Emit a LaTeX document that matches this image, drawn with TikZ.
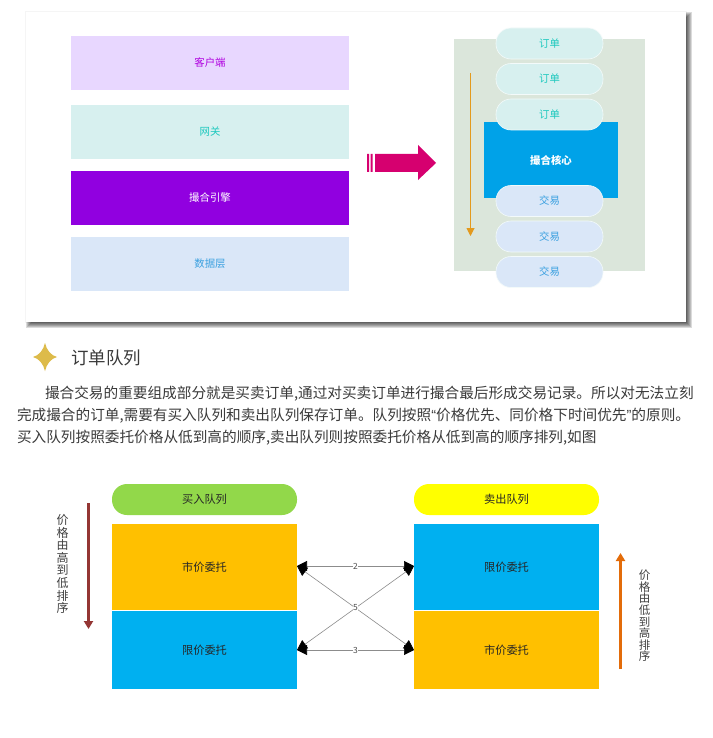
\documentclass[tikz,border=0pt]{standalone}
\usepackage{fontspec}
\setmainfont{Noto Sans CJK SC}
\newfontfamily\latinquote{Liberation Sans}
\usetikzlibrary{arrows.meta}
\definecolor{lilac}{HTML}{E8D7FF}
\definecolor{mint}{HTML}{D7F0EF}
\definecolor{paleblue}{HTML}{DAE7F8}
\definecolor{violet}{HTML}{9100E0}
\definecolor{panelgreen}{HTML}{DBE6DB}
\definecolor{corecyan}{HTML}{00A2E8}
\definecolor{amberbox}{HTML}{FFC000}
\definecolor{bluebox}{HTML}{00B0F0}
\definecolor{pillgreen}{HTML}{92D84A}
\definecolor{pureyellow}{HTML}{FFFF00}
\definecolor{darkred}{HTML}{943634}
\definecolor{orangeup}{HTML}{E36C0A}
\definecolor{orangeline}{HTML}{E39A1E}
\definecolor{magentaarrow}{HTML}{D6006F}
\definecolor{stargold}{HTML}{DDBB4A}
\definecolor{bodytext}{HTML}{3A3A3A}
\definecolor{clienttext}{HTML}{B000E0}
\definecolor{tealtext}{HTML}{1CC8BE}
\definecolor{bluetext}{HTML}{3AA0E0}
\newcommand{\tightlines}{\lineskiplimit=-6pt\relax}
\tikzset{
  x=1pt,y=-1pt,
  box/.style={rectangle,inner sep=0pt,outer sep=0pt,font=\fontsize{10.4}{12}\selectfont},
  pill/.style={box,rounded corners=15pt,minimum width=107pt,minimum height=31pt,draw=white!70!mint,line width=0.6pt,font=\fontsize{10.4}{12}\selectfont},
  bpill/.style={box,rounded corners=15pt,minimum width=185pt,minimum height=31pt,font=\fontsize{11.2}{12}\selectfont},
  lay/.style={box,minimum width=278pt,minimum height=54pt},
  qbox/.style={box,minimum width=185pt,text=black!85,font=\fontsize{11.2}{12}\selectfont},
  bodyline/.style={inner sep=0pt,outer sep=0pt,anchor=west,text=bodytext,font=\fontsize{14.65}{16}\selectfont},
  vtext/.style={inner sep=0pt,align=center,text=black!75},
  link/.style={draw=black!45,line width=0.6pt,{Triangle[black,length=10pt,width=10pt]}-{Triangle[black,length=10pt,width=10pt]}},
  linklabel/.style={inner sep=0.5pt,fill=white,text=black!70,font=\fontsize{8.5}{9}\selectfont}
}
\begin{document}
\begin{tikzpicture}
\useasboundingbox (0,0) rectangle (712,738);
\fill[white] (0,0) rectangle (712,738);
% card shadow
\fill[black,opacity=0.04] (25,11) rectangle (687,323);
\foreach \r in {3,2,1,0,-1,-2}{
  \fill[black,opacity=0.14] (29-\r,15-\r) rectangle (689+\r,325+\r);
}
\fill[white] (26,12) rectangle (686,322);
% layers
\node[lay,fill=lilac,text=clienttext] (client) at (210,63) {客户端};
\node[lay,fill=mint,text=tealtext] (gateway) at (210,132) {网关};
\node[lay,fill=violet,text=white] (engine) at (210,198) {撮合引擎};
\node[lay,fill=paleblue,text=bluetext] (data) at (210,264) {数据层};
% big arrow
\fill[magentaarrow] (367,154) rectangle (369,172) (370.5,154) rectangle (372.5,172)
  (375,154) -- (418,154) -- (418,145) -- (436,163) -- (418,180) -- (418,172) -- (375,172) -- cycle;
% panel
\node[box,minimum width=191pt,minimum height=232pt,fill=panelgreen] (panel) at (549.5,155) {};
\node[box,minimum width=134pt,minimum height=76pt,fill=corecyan,text=white,font=\fontsize{10.4}{12}\selectfont\bfseries] (core) at (551,160) {撮合核心};
\node[pill,fill=mint,text=tealtext] (o1) at (549.5,43.5) {订单};
\node[pill,fill=mint,text=tealtext] (o2) at (549.5,79) {订单};
\node[pill,fill=mint,text=tealtext] (o3) at (549.5,114.5) {订单};
\node[pill,fill=paleblue,text=bluetext] (t1) at (549.5,201) {交易};
\node[pill,fill=paleblue,text=bluetext] (t2) at (549.5,236.5) {交易};
\node[pill,fill=paleblue,text=bluetext] (t3) at (549.5,272) {交易};
\coordinate (flowa) at (470.5,73);
\coordinate (flowb) at (470.5,236);
\draw[orangeline,line width=1pt,-{Triangle[length=8pt,width=8pt]}] (flowa) -- (flowb);
% heading
\fill[stargold] (45,343) .. controls (46.5,350) and (51,355.5) .. (57,357)
  .. controls (51,358.5) and (46.5,364) .. (45,371)
  .. controls (43.5,364) and (39,358.5) .. (33,357)
  .. controls (39,355.5) and (43.5,350) .. (45,343) -- cycle;
\node[bodyline,font=\fontsize{17.5}{19}\selectfont] (title) at (71,358) {订单队列};
% paragraph
\node[bodyline] (l1) at (45,394) {撮合交易的重要组成部分就是买卖订单,通过对买卖订单进行撮合最后形成交易记录。所以对无法立刻};
\node[bodyline] (l2) at (17,416) {完成撮合的订单,需要有买入队列和卖出队列保存订单。队列按照{\latinquote “}价格优先、同价格下时间优先{\latinquote ”}的原则。};
\node[bodyline] (l3) at (17,438) {买入队列按照委托价格从低到高的顺序,卖出队列则按照委托价格从低到高的顺序排列,如图};
% queues
\node[bpill,fill=pillgreen,text=black!85] (buy) at (204.5,499.5) {买入队列};
\node[bpill,fill=pureyellow,text=black!85] (sell) at (506.5,499.5) {卖出队列};
\node[qbox,fill=amberbox,minimum height=86pt] (bm) at (204.5,567) {市价委托};
\node[qbox,fill=bluebox,minimum height=78pt] (bl) at (204.5,650) {限价委托};
\node[qbox,fill=bluebox,minimum height=86pt] (sl) at (506.5,567) {限价委托};
\node[qbox,fill=amberbox,minimum height=78pt] (sm) at (506.5,650) {市价委托};
% connectors
\coordinate (a) at (bm.east|-0,566);
\coordinate (b) at (sl.west|-0,566);
\coordinate (c) at (bl.east|-0,650);
\coordinate (d) at (sm.west|-0,650);
\draw[link] (a) -- node[linklabel] {2} (b);
\draw[link] (c) -- node[linklabel] {3} (d);
\draw[link] (c) -- (b);
\draw[link] (a) -- node[linklabel] {5} (d);
% side arrows
\coordinate (ra) at (88.5,503);
\coordinate (rb) at (88.5,629);
\draw[darkred,line width=2.4pt,-{Triangle[length=8pt,width=9pt]}] (ra) -- (rb);
\coordinate (ua) at (620.5,669);
\coordinate (ub) at (620.5,553);
\draw[orangeup,line width=2.4pt,-{Triangle[length=8pt,width=9pt]}] (ua) -- (ub);
\node[vtext,font=\fontsize{12}{12.6}\selectfont\tightlines] (vl) at (62.5,564) {价\\格\\由\\高\\到\\低\\排\\序};
\node[vtext,font=\fontsize{11.5}{11.6}\selectfont\tightlines] (vr) at (644.5,616) {价\\格\\由\\低\\到\\高\\排\\序};
\end{tikzpicture}
\end{document}
